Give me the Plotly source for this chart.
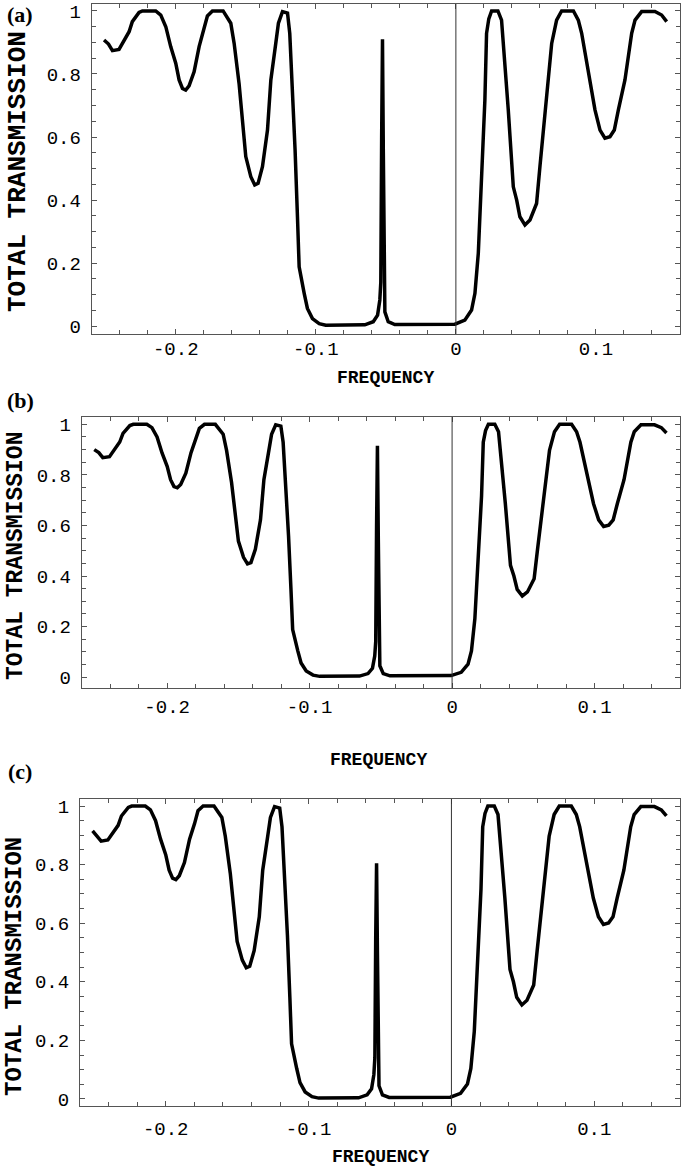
import plotly.graph_objects as go

W, H = 685, 1171

# ---------------- data ----------------
freq = [-0.2512, -0.2480, -0.2452, -0.2405, -0.2333, -0.2310, -0.2262, -0.2238, -0.2143, -0.2107,
        -0.2071, -0.2036, -0.2000, -0.1976, -0.1952, -0.1929, -0.1905, -0.1869, -0.1833, -0.1798,
        -0.1774, -0.1738, -0.1662, -0.1607, -0.1583, -0.1548, -0.1512, -0.1500, -0.1464, -0.1436,
        -0.1412, -0.1381, -0.1345, -0.1321, -0.1286, -0.1267, -0.1238, -0.1202, -0.1186, -0.1167,
        -0.1148, -0.1131, -0.1119, -0.1083, -0.1060, -0.1024, -0.0976, -0.0929, -0.0650, -0.0590,
        -0.0559, -0.0543, -0.0536, -0.0530, -0.0524, -0.0518, -0.0512, -0.0507, -0.0483, -0.0436,
        -0.0007, 0.0064, 0.0112, 0.0136, 0.0160, 0.0184, 0.0207, 0.0219, 0.0235, 0.0255,
        0.0300, 0.0326, 0.0350, 0.0374, 0.0410, 0.0434, 0.0457, 0.0493, 0.0529, 0.0576,
        0.0600, 0.0636, 0.0684, 0.0719, 0.0755, 0.0839, 0.0874, 0.0898, 0.0946, 0.0993,
        0.1029, 0.1064, 0.1100, 0.1131, 0.1160, 0.1207, 0.1255, 0.1279, 0.1326, 0.1421,
        0.1469, 0.1505]

trans_a = [0.908, 0.895, 0.874, 0.878, 0.934, 0.966, 0.995, 1.000, 1.000, 0.987,
           0.950, 0.887, 0.834, 0.781, 0.754, 0.749, 0.762, 0.807, 0.887, 0.940,
           0.984, 1.000, 1.000, 0.961, 0.897, 0.770, 0.612, 0.538, 0.474, 0.448,
           0.453, 0.506, 0.622, 0.781, 0.897, 0.961, 0.998, 0.993, 0.929, 0.770,
           0.559, 0.347, 0.188, 0.104, 0.056, 0.024, 0.008, 0.003, 0.004, 0.014,
           0.035, 0.083, 0.140, 0.600, 0.910, 0.550, 0.140, 0.045, 0.014, 0.005,
           0.006, 0.019, 0.051, 0.104, 0.231, 0.453, 0.717, 0.929, 0.975, 1.000,
           1.000, 0.971, 0.844, 0.686, 0.442, 0.400, 0.347, 0.321, 0.337, 0.389,
           0.506, 0.665, 0.897, 0.971, 1.000, 1.000, 0.971, 0.929, 0.802, 0.686,
           0.622, 0.596, 0.601, 0.622, 0.686, 0.781, 0.929, 0.971, 0.998, 0.998,
           0.987, 0.966]

trans_b = [0.900, 0.888, 0.868, 0.872, 0.930, 0.964, 0.995, 1.000, 1.000, 0.987,
           0.950, 0.887, 0.834, 0.781, 0.754, 0.749, 0.762, 0.807, 0.887, 0.940,
           0.984, 1.000, 1.000, 0.961, 0.897, 0.770, 0.612, 0.538, 0.474, 0.448,
           0.453, 0.506, 0.622, 0.781, 0.897, 0.961, 0.998, 0.993, 0.929, 0.770,
           0.559, 0.347, 0.188, 0.104, 0.056, 0.024, 0.008, 0.003, 0.004, 0.014,
           0.035, 0.083, 0.140, 0.600, 0.915, 0.550, 0.140, 0.045, 0.014, 0.005,
           0.006, 0.019, 0.051, 0.104, 0.231, 0.453, 0.717, 0.929, 0.975, 1.000,
           1.000, 0.971, 0.844, 0.686, 0.442, 0.400, 0.347, 0.321, 0.337, 0.389,
           0.506, 0.665, 0.897, 0.971, 1.000, 1.000, 0.971, 0.929, 0.802, 0.686,
           0.622, 0.596, 0.601, 0.622, 0.686, 0.781, 0.929, 0.971, 0.998, 0.998,
           0.987, 0.966]

trans_c = [0.915, 0.895, 0.880, 0.884, 0.934, 0.966, 0.995, 1.000, 1.000, 0.987,
           0.950, 0.887, 0.834, 0.781, 0.754, 0.749, 0.762, 0.807, 0.887, 0.940,
           0.984, 1.000, 1.000, 0.961, 0.897, 0.770, 0.612, 0.538, 0.474, 0.448,
           0.453, 0.506, 0.622, 0.781, 0.897, 0.961, 0.998, 0.993, 0.929, 0.770,
           0.559, 0.347, 0.188, 0.104, 0.056, 0.024, 0.008, 0.003, 0.004, 0.014,
           0.035, 0.083, 0.140, 0.550, 0.805, 0.500, 0.140, 0.045, 0.014, 0.005,
           0.006, 0.019, 0.051, 0.104, 0.231, 0.453, 0.717, 0.929, 0.975, 1.000,
           1.000, 0.971, 0.844, 0.686, 0.442, 0.400, 0.347, 0.321, 0.337, 0.389,
           0.506, 0.665, 0.897, 0.971, 1.000, 1.000, 0.971, 0.929, 0.802, 0.686,
           0.622, 0.596, 0.601, 0.622, 0.686, 0.781, 0.929, 0.971, 0.998, 0.998,
           0.987, 0.966]

xtick_vals = [-0.2, -0.1, 0, 0.1]
xtick_text = ["-0.2", "-0.1", "0", "0.1"]
ytick_vals = [0, 0.2, 0.4, 0.6, 0.8, 1]
ytick_text = ["0", "0.2", "0.4", "0.6", "0.8", "1"]
panel_labels = ["(a)", "(b)", "(c)"]
x_title = "FREQUENCY"
y_title = "TOTAL TRANSMISSION"

# ---------------- layout geometry (pixels) ----------------
panels = [
    dict(y=trans_a, l=91.7, r=680, t=4, b=334, yr=[-0.025, 1.022],
         lab=(20, 15), xt=(385, 378), yt=(18, 172), ytsize=26, std=-3),
    dict(y=trans_b, l=81.7, r=680, t=417, b=688, yr=[-0.043, 1.029],
         lab=(20, 400), xt=(378, 760), yt=(16, 556), ytsize=23, std=1),
    dict(y=trans_c, l=80, r=680, t=799, b=1106, yr=[-0.024, 1.024],
         lab=(20, 771), xt=(380, 1157), yt=(14, 967), ytsize=24, std=5),
]

fig = go.Figure()
layout = dict(width=W, height=H, margin=dict(l=0, r=0, t=0, b=0),
              paper_bgcolor="white", plot_bgcolor="white", showlegend=False)
annotations = []
shapes = []
frame_col = "#555555"
tick_font = dict(family="Liberation Mono", size=19, color="black")

for i, p in enumerate(panels):
    n = "" if i == 0 else str(i + 1)
    fig.add_trace(go.Scatter(x=freq, y=p["y"], mode="lines",
                             line=dict(color="black", width=3.5),
                             xaxis="x" + n, yaxis="y" + n, hoverinfo="skip"))
    layout["xaxis" + n] = dict(
        domain=[p["l"] / W, p["r"] / W], range=[-0.26, 0.16], anchor="y" + n,
        tickmode="array", tickvals=xtick_vals, ticktext=xtick_text,
        ticks="inside", ticklen=5, tickcolor=frame_col, tickwidth=1,
        showline=True, linecolor=frame_col, linewidth=1, mirror="allticks",
        showgrid=False, zeroline=False, automargin=False,
        ticklabelstandoff=p["std"], tickfont=tick_font,
        minor=dict(tickmode="linear", dtick=0.02, tick0=0, ticks="inside", ticklen=4,
                   tickcolor=frame_col, tickwidth=1, showgrid=False))
    layout["yaxis" + n] = dict(
        domain=[1 - p["b"] / H, 1 - p["t"] / H], range=p["yr"], anchor="x" + n,
        tickmode="array", tickvals=ytick_vals, ticktext=ytick_text,
        ticks="inside", ticklen=5, tickcolor=frame_col, tickwidth=1,
        showline=True, linecolor=frame_col, linewidth=1, mirror="allticks",
        showgrid=False, zeroline=False, automargin=False,
        ticklabelstandoff=6, tickfont=tick_font,
        minor=dict(tickmode="linear", dtick=0.05, tick0=0, ticks="inside", ticklen=4,
                   tickcolor=frame_col, tickwidth=1, showgrid=False))
    shapes.append(dict(type="line", xref="x" + n, yref="y" + n + " domain",
                       x0=0, x1=0, y0=0, y1=1,
                       line=dict(color="#333333", width=1)))
    annotations.append(dict(text="<b>" + panel_labels[i] + "</b>", xref="paper", yref="paper",
                            x=p["lab"][0] / W, y=1 - p["lab"][1] / H, showarrow=False,
                            xanchor="center", yanchor="middle",
                            font=dict(family="Liberation Serif", size=22, color="black")))
    annotations.append(dict(text="<b>" + x_title + "</b>", xref="paper", yref="paper",
                            x=p["xt"][0] / W, y=1 - p["xt"][1] / H, showarrow=False,
                            xanchor="center", yanchor="middle",
                            font=dict(family="Liberation Mono", size=18, color="black")))
    annotations.append(dict(text="<b>" + y_title + "</b>", xref="paper", yref="paper",
                            x=p["yt"][0] / W, y=1 - p["yt"][1] / H, showarrow=False,
                            textangle=-90, xanchor="center", yanchor="middle",
                            font=dict(family="Liberation Mono", size=p["ytsize"], color="black")))

layout["annotations"] = annotations
layout["shapes"] = shapes
fig.update_layout(**layout)
fig.write_html("out.html", config={"displayModeBar": False, "staticPlot": True},
               post_script="document.body.style.margin='0';document.body.style.overflow='hidden';")
